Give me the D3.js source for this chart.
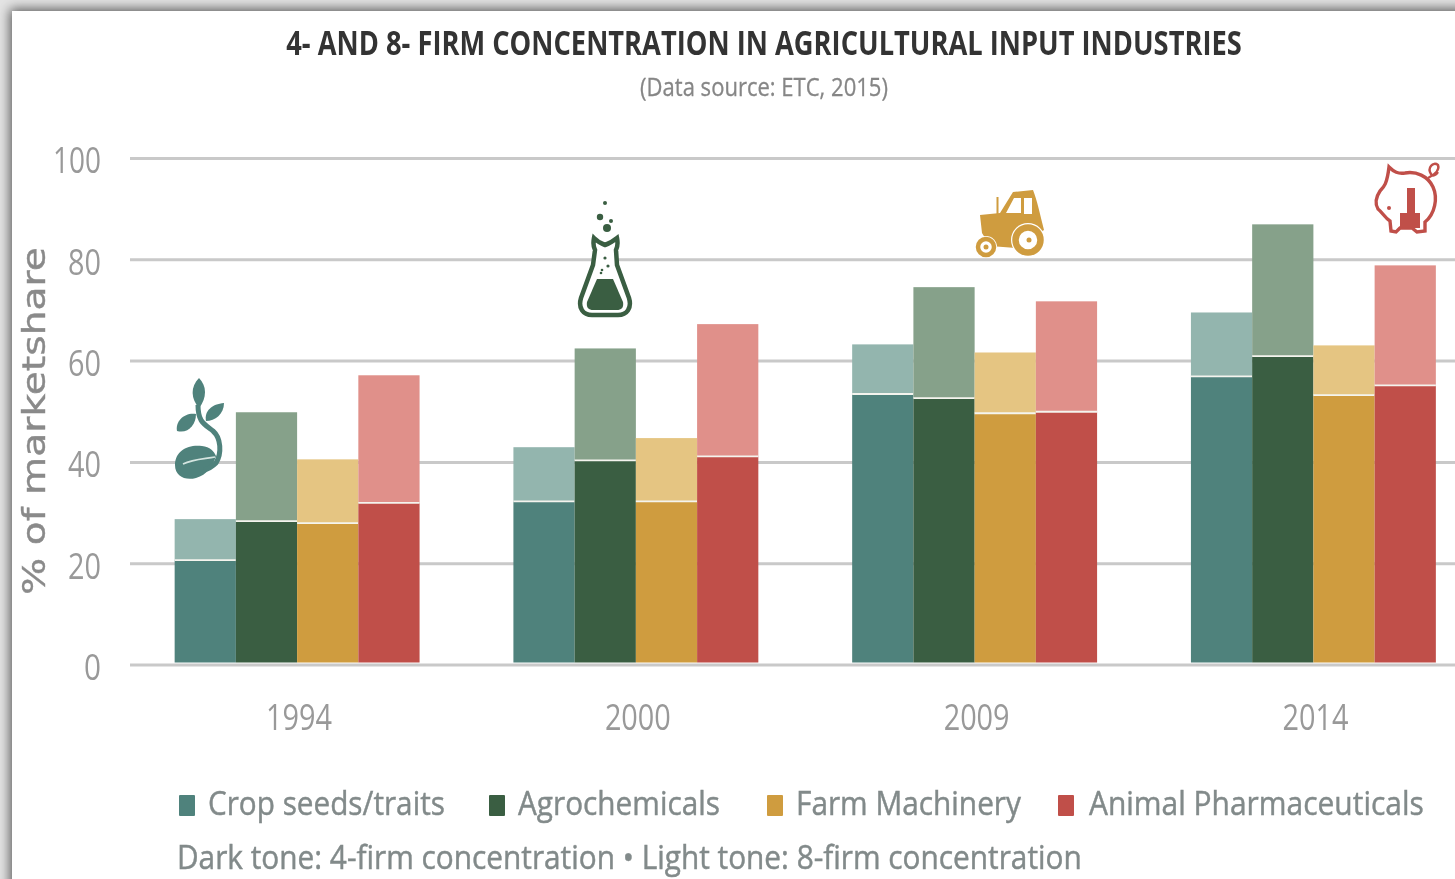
<!DOCTYPE html>
<html><head><meta charset="utf-8">
<script src="https://cdn.jsdelivr.net/npm/d3@7"></script>
<style>
html,body{margin:0;padding:0;width:1455px;height:879px;overflow:hidden;background:#e4e4e4}
#paper{position:absolute;left:12px;top:11px;width:1500px;height:950px;background:#fff;box-shadow:-1px -1px 11px 1px rgba(0,0,0,.62)}
svg{position:absolute;left:0;top:0;filter:blur(.45px)}
</style></head><body>
<div id="paper"></div>
<svg id="c" width="1455" height="879"></svg>
<script>
const years = ["1994","2000","2009","2014"];
const sectors = ["Crop seeds/traits","Agrochemicals","Farm Machinery","Animal Pharmaceuticals"];
const seeds4 = [20.7,32.3,53.5,57.0];
const seeds8 = [28.8,43.0,63.3,69.6];
const agro4 = [28.4,40.4,52.7,61.0];
const agro8 = [49.9,62.5,74.6,87.0];
const farm4 = [28.0,32.3,49.7,53.3];
const farm8 = [40.6,44.8,61.7,63.1];
const animal4 = [32.0,41.2,50.0,55.2];
const animal8 = [57.2,67.3,71.8,78.9];
const darkColors = ["#4f827c","#3a5e42","#cf9c3f","#c04f49"];
const lightColors = ["#93b5ae","#86a18a","#e5c582","#e0908a"];
const yTicks = [0,20,40,60,80,100];
const firm4 = [seeds4,agro4,farm4,animal4];
const firm8 = [seeds8,agro8,farm8,animal8];

const svg = d3.select("#c");
const y = d3.scaleLinear().domain([0,100]).range([665,158.5]);
const x0 = d3.scaleBand().domain(years).range([127.9,1482.6]).paddingInner(0.277).paddingOuter(0.138);
const x1 = d3.scaleBand().domain(sectors).range([0,x0.bandwidth()]);
const sans = "'Open Sans','Noto Sans',sans-serif";

// squeeze a text horizontally to a given drawn width, around its anchor
function fit(node,px,py,w,rot){
  const s = w/node.getComputedTextLength();
  d3.select(node).attr("x",0).attr("y",0)
    .attr("transform",`translate(${px},${py})${rot?` rotate(${rot})`:""} scale(${s},1)`);
}

// grid + y axis
const yAxis = d3.axisLeft(y).tickValues(yTicks).tickSize(0).tickPadding(0);
const gy = svg.append("g").attr("transform","translate(101,0)").call(yAxis);
gy.select(".domain").remove();
gy.selectAll("g.tick").attr("transform",null);
gy.selectAll("text").attr("font-family",sans).attr("font-size",36).attr("fill","#999").attr("dy","0.36em")
  .each(function(d){ fit(this,0,y(d)+2,d===100?48:d===0?17:33); });
svg.append("g").selectAll("line").data(yTicks).join("line")
  .attr("x1",130).attr("x2",1455).attr("y1",d=>y(d)).attr("y2",d=>y(d))
  .attr("stroke","#c9c9c9").attr("stroke-width",3);

// bars
const base = y(0)-2.5;
const groups = svg.append("g").selectAll("g").data(years).join("g").attr("transform",d=>`translate(${x0(d)},0)`);
sectors.forEach((s,si)=>{
  groups.append("rect").attr("x",x1(s)).attr("width",x1.bandwidth())
    .attr("y",(d,i)=>y(firm8[si][i])).attr("height",(d,i)=>y(firm4[si][i])-y(firm8[si][i]))
    .attr("fill",lightColors[si]);
  groups.append("rect").attr("x",x1(s)).attr("width",x1.bandwidth())
    .attr("y",(d,i)=>y(firm4[si][i])).attr("height",(d,i)=>base-y(firm4[si][i]))
    .attr("fill",darkColors[si]);
  groups.append("line").attr("x1",x1(s)).attr("x2",x1(s)+x1.bandwidth())
    .attr("y1",(d,i)=>y(firm4[si][i])).attr("y2",(d,i)=>y(firm4[si][i]))
    .attr("stroke","#f4f4ee").attr("stroke-width",1.8);
});

// x axis
const gx = svg.append("g").call(d3.axisBottom(x0).tickSize(0).tickPadding(0));
gx.select(".domain").remove();
gx.selectAll("g.tick").attr("transform",null);
gx.selectAll("text").attr("font-family",sans).attr("font-size",36).attr("fill","#999").attr("dy",0)
  .each(function(d){ fit(this,x0(d)+x0.bandwidth()/2+2,730,66); });

// titles
svg.append("text").attr("text-anchor","middle")
  .attr("font-family",sans).attr("font-weight",700).attr("font-size",34).attr("fill","#333")
  .text("4- AND 8- FIRM CONCENTRATION IN AGRICULTURAL INPUT INDUSTRIES")
  .each(function(){ fit(this,764,55,956); });
svg.append("text").attr("text-anchor","middle")
  .attr("font-family",sans).attr("font-size",26).attr("fill","#868686").attr("stroke","#868686").attr("stroke-width",.3)
  .text("(Data source: ETC, 2015)")
  .each(function(){ fit(this,764,96,248); });
svg.append("text").attr("text-anchor","middle")
  .attr("font-family","'DejaVu Sans',sans-serif").attr("font-size",32).attr("fill","#8a8a8a").attr("stroke","#8a8a8a").attr("stroke-width",.4)
  .text("% of marketshare")
  .each(function(){ fit(this,45,421,348,-90); });

// legend
const legendX = [179,489,767,1058], legendTextX = [208,518,796,1089], legendW = [237,202,225,335];
const lg = svg.append("g").selectAll("g").data(sectors).join("g");
lg.append("rect").attr("x",(d,i)=>legendX[i]).attr("y",795).attr("width",16).attr("height",21).attr("rx",1)
  .attr("fill",(d,i)=>darkColors[i]);
lg.append("text").attr("font-family",sans).attr("font-size",33).attr("font-weight",500)
  .attr("fill","#828a8a").attr("stroke","#828a8a").attr("stroke-width",.45).text(d=>d)
  .each(function(d,i){ fit(this,legendTextX[i],815,legendW[i]); });
svg.append("text").attr("font-family",sans).attr("font-size",32.5).attr("font-weight",500)
  .attr("fill","#828a8a").attr("stroke","#828a8a").attr("stroke-width",.45)
  .text("Dark tone: 4-firm concentration • Light tone: 8-firm concentration")
  .each(function(){ fit(this,177,869.4,905); });

// icons
// sprout
const sp = svg.append("g").attr("fill",darkColors[0]);
sp.append("path").attr("d","M175 465C175 451 188 444 202 446C210 447 214 451 216 456C213 466 207 475 196 478C185 481 175 476 175 465Z");
sp.append("path").attr("d","M183 464C193 459 204 459 215 457").attr("fill","none").attr("stroke","#d5e5e0").attr("stroke-width",1.6);
sp.append("path").attr("d","M198 405C198 422 204 424 213 431C221 438 222 453 216 463C212 467 208 469 204 470").attr("fill","none").attr("stroke",darkColors[0]).attr("stroke-width",5);
sp.append("path").attr("d","M199 378C207 386 207 398 199 408C191 399 190 387 199 378Z");
sp.append("path").attr("d","M224 403C224 414 215 421 206 421C204 411 212 404 224 403Z");
sp.append("path").attr("d","M177 431C175 421 185 412 196 414C196 425 188 434 177 431Z");
// flask
const fl = svg.append("g");
fl.append("path").attr("d","M594 238C598 242 602 244 605 245C608 244 612 242 617 238C618 243 618 246 616 250L617 265L629 298C632 308 627 315 618 315L592 315C583 315 578 308 581 298L593 265L595 250C593 246 593 243 594 238Z")
  .attr("fill","#fff").attr("stroke",darkColors[1]).attr("stroke-width",4.5);
fl.append("path").attr("d","M597 279L613 279L623 302C624 308 621 310 617 310L593 310C589 310 586 308 587 302Z").attr("fill",darkColors[1]);
const bubbles = [[605,203,2],[600,217,3.2],[611,221,2],[607,228,4],[605,258,1.6],[608,266,1.6],[602,270,1.3],[601,273,1.3]];
fl.selectAll("circle").data(bubbles).join("circle").attr("cx",d=>d[0]).attr("cy",d=>d[1]).attr("r",d=>d[2]).attr("fill",darkColors[1]);
// tractor
const tr = svg.append("g").attr("fill",darkColors[2]);
tr.append("path").attr("fill-rule","evenodd").attr("d","M1013 192L1033 190C1037 200 1040 214 1044 230L1016 248L990 246L982 233L980 215L1000 213ZM1014 198L1006 213L1021 213L1021 198ZM1024 198L1024 214L1032 214L1032 198Z");
tr.append("rect").attr("x",996.5).attr("y",197).attr("width",2).attr("height",17);
tr.append("circle").attr("cx",1028).attr("cy",240).attr("r",17).attr("fill","#fff");
tr.append("circle").attr("cx",1028).attr("cy",240).attr("r",12.5).attr("fill","#fff").attr("stroke",darkColors[2]).attr("stroke-width",6.5);
tr.append("circle").attr("cx",1029).attr("cy",240).attr("r",2.5);
tr.append("circle").attr("cx",986).attr("cy",247).attr("r",11).attr("fill","#fff");
tr.append("circle").attr("cx",986).attr("cy",247).attr("r",8).attr("fill","#fff").attr("stroke",darkColors[2]).attr("stroke-width",4.5);
tr.append("circle").attr("cx",986).attr("cy",247).attr("r",2.5);
// pig
const pg = svg.append("g");
pg.append("path").attr("d","M1389 167C1394 172 1398 174 1405 173C1416 171 1428 176 1433 187C1438 198 1435 214 1425 222L1425 231L1417 232L1412 228L1400 228L1396 232L1391 231L1390 221C1385 218 1383 213 1378 209C1375 204 1376 197 1380 191C1384 187 1387 184 1389 167Z")
  .attr("fill","#fff").attr("stroke",darkColors[3]).attr("stroke-width",3.4);
pg.append("path").attr("d","M1428 178C1434 175 1440 170 1438 165C1433 161 1427 168 1431 174C1433 177 1436 175 1438 172").attr("fill","none").attr("stroke",darkColors[3]).attr("stroke-width",2.4);
pg.append("path").attr("d","M1407 188L1415 188L1415 213L1420 213L1420 228L1400 228L1400 213L1407 213Z").attr("fill",darkColors[3]);
pg.append("circle").attr("cx",1389).attr("cy",208).attr("r",2).attr("fill",darkColors[3]);
</script>
</body></html>
